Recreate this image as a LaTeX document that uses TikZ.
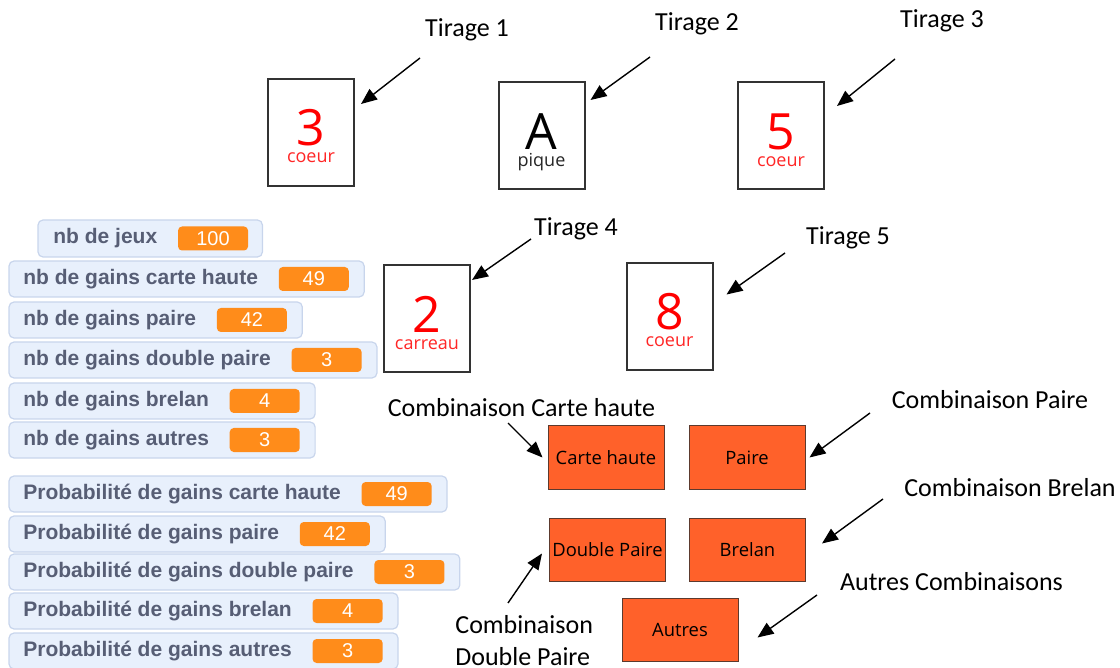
\documentclass[tikz,border=0pt]{standalone}
\usepackage{fontspec}
\setmainfont{Carlito}
\newfontfamily\cardfont{Open Sans}
\newfontfamily\scratchfont{Liberation Sans}
\usetikzlibrary{positioning,calc,arrows.meta,backgrounds}

\definecolor{scratchgrey}{HTML}{575E75}
\definecolor{scratchbg}{HTML}{E8F0FC}
\definecolor{scratchline}{HTML}{C8D5EC}
\definecolor{scratchorange}{HTML}{FF8C1A}
\definecolor{comborange}{HTML}{FF612A}
\definecolor{comboline}{HTML}{5C3A2E}

\tikzset{
  card/.style={draw=black!80, line width=1pt, fill=white, minimum width=43pt, minimum height=53.5pt, inner sep=0pt},
  cardval/.style={font=\cardfont\fontsize{25}{25}\selectfont, anchor=base, inner sep=0pt},
  cardsuit/.style={font=\cardfont\fontsize{9}{9}\selectfont, anchor=base, inner sep=0pt},
  combo/.style={draw=comboline, line width=0.5pt, fill=comborange, minimum width=58pt, minimum height=31.5pt, inner sep=0pt,
    font=\cardfont\fontsize{9.2}{10}\selectfont, text=black},
  lbl/.style={font=\fontsize{13}{16}\selectfont, inner sep=0pt},
  arr/.style={-{Triangle[length=8pt,width=6.5pt]}, line width=0.7pt},
  monbox/.style={draw=scratchline, fill=scratchbg, rounded corners=2.5pt, line width=0.6pt},
  monlabel/.style={font=\scratchfont\bfseries\fontsize{10.5}{12}\selectfont, text=scratchgrey, inner sep=0pt, anchor=west},
  monvalue/.style={fill=scratchorange, rounded corners=2pt, minimum width=35pt, minimum height=12pt, inner sep=0pt,
    text=white, font=\scratchfont\fontsize{10}{12}\selectfont},
}

\begin{document}
\begin{tikzpicture}[x=0.5pt, y=-0.5pt]
    \useasboundingbox (0,0) rectangle (1120,668);

    %% the five cards
    \foreach \n/\cx/\cy/\v/\s/\col in {1/311/132.5/3/coeur/red, 2/541.5/136/A/pique/black, 3/781/136/5/coeur/red,
                                       4/427/319/2/carreau/red, 5/669.5/316.5/8/coeur/red}{
      \node[card] (c\n) at (\cx,\cy) {};
      \node[cardval, text=\col] (v\n) at (\cx,\cy+13.5) {\v};
      \node[cardsuit, text=\col!85] (s\n) at (\cx,\cy+30.5) {\s};
    }

    %% draw labels
    \node[lbl] (t1) at (467,30) {Tirage 1};
    \node[lbl] (t2) at (697,24) {Tirage 2};
    \node[lbl] (t3) at (942,21) {Tirage 3};
    \node[lbl] (t4) at (576,229) {Tirage 4};
    \node[lbl] (t5) at (848,238) {Tirage 5};

    \coordinate (a1) at (420,58);   \coordinate (b1) at ($(c1.east)+(6,-28.5)$);
    \coordinate (a2) at (650,57);   \coordinate (b2) at ($(c2.east)+(5,-36)$);
    \coordinate (a3) at (895,59);   \coordinate (b3) at ($(c3.east)+(12,-30)$);
    \coordinate (a4) at (531,239);  \coordinate (b4) at ($(c4.east)+(1,-39)$);
    \coordinate (a5) at (785,253);  \coordinate (b5) at ($(c5.east)+(13,-22)$);
    \foreach \n in {1,...,5}
      \draw[arr] (a\n) -- (b\n);

    %% combinations
    \node[combo] (ch) at (606,457.5) {Carte haute};
    \node[combo] (pa) at (747,457.5) {Paire};
    \node[combo] (dp) at (607.5,549.5) {Double Paire};
    \node[combo] (br) at (747.5,549.5) {Brelan};
    \node[combo] (au) at (680,629.5) {Autres};

    \node[lbl] (lch) at (521.5,408) {Combinaison Carte haute};
    \node[lbl] (lpa) at (990,400) {Combinaison Paire};
    \node[lbl] (lbr) at (1010,488) {Combinaison Brelan};
    \node[lbl] (lau) at (951.5,582) {Autres Combinaisons};
    \node[lbl, align=left, anchor=west] (ldp) at (455,641) {Combinaison\\Double Paire};

    \draw[arr] (508,423) coordinate (ach) -- ($(ch.west)+(-5,0)$);
    \draw[arr] (870,413) coordinate (apa) -- ($(pa.east)+(4,0)$);
    \draw[arr] (883,499) coordinate (abr) -- ($(br.east)+(16,-6)$);
    \draw[arr] (817,595) coordinate (aau) -- ($(au.east)+(19,8)$);
    \draw[arr] (508,603) coordinate (adp) -- ($(dp.west)+(-7,4)$);

    %% scratch monitors
    \node[monlabel] (lab0) at (53,238.5) {nb de jeux};
    \node[monvalue, right=10pt of lab0] (val0) {100};
    \begin{pgfonlayer}{background}
      \draw[monbox] (38,220) rectangle ($(val0.east)+(14,18.5)$);
    \end{pgfonlayer}

    \foreach \i/\txt/\y/\v in {1/nb de gains carte haute/261/49, 2/nb de gains paire/302/42,
                               3/nb de gains double paire/342/3, 4/nb de gains brelan/383/4,
                               5/nb de gains autres/422/3,
                               6/Probabilité de gains carte haute/476/49, 7/Probabilité de gains paire/516/42,
                               8/Probabilité de gains double paire/554/3, 9/Probabilité de gains brelan/593/4,
                               10/Probabilité de gains autres/633/3}{
      \node[monlabel] (lab\i) at (23,\y+18) {\txt};
      \node[monvalue, right=10pt of lab\i] (val\i) {\v};
      \begin{pgfonlayer}{background}
        \draw[monbox] (9,\y) rectangle ($(val\i.east)+(15,18)$);
      \end{pgfonlayer}
    }
\end{tikzpicture}
\end{document}
